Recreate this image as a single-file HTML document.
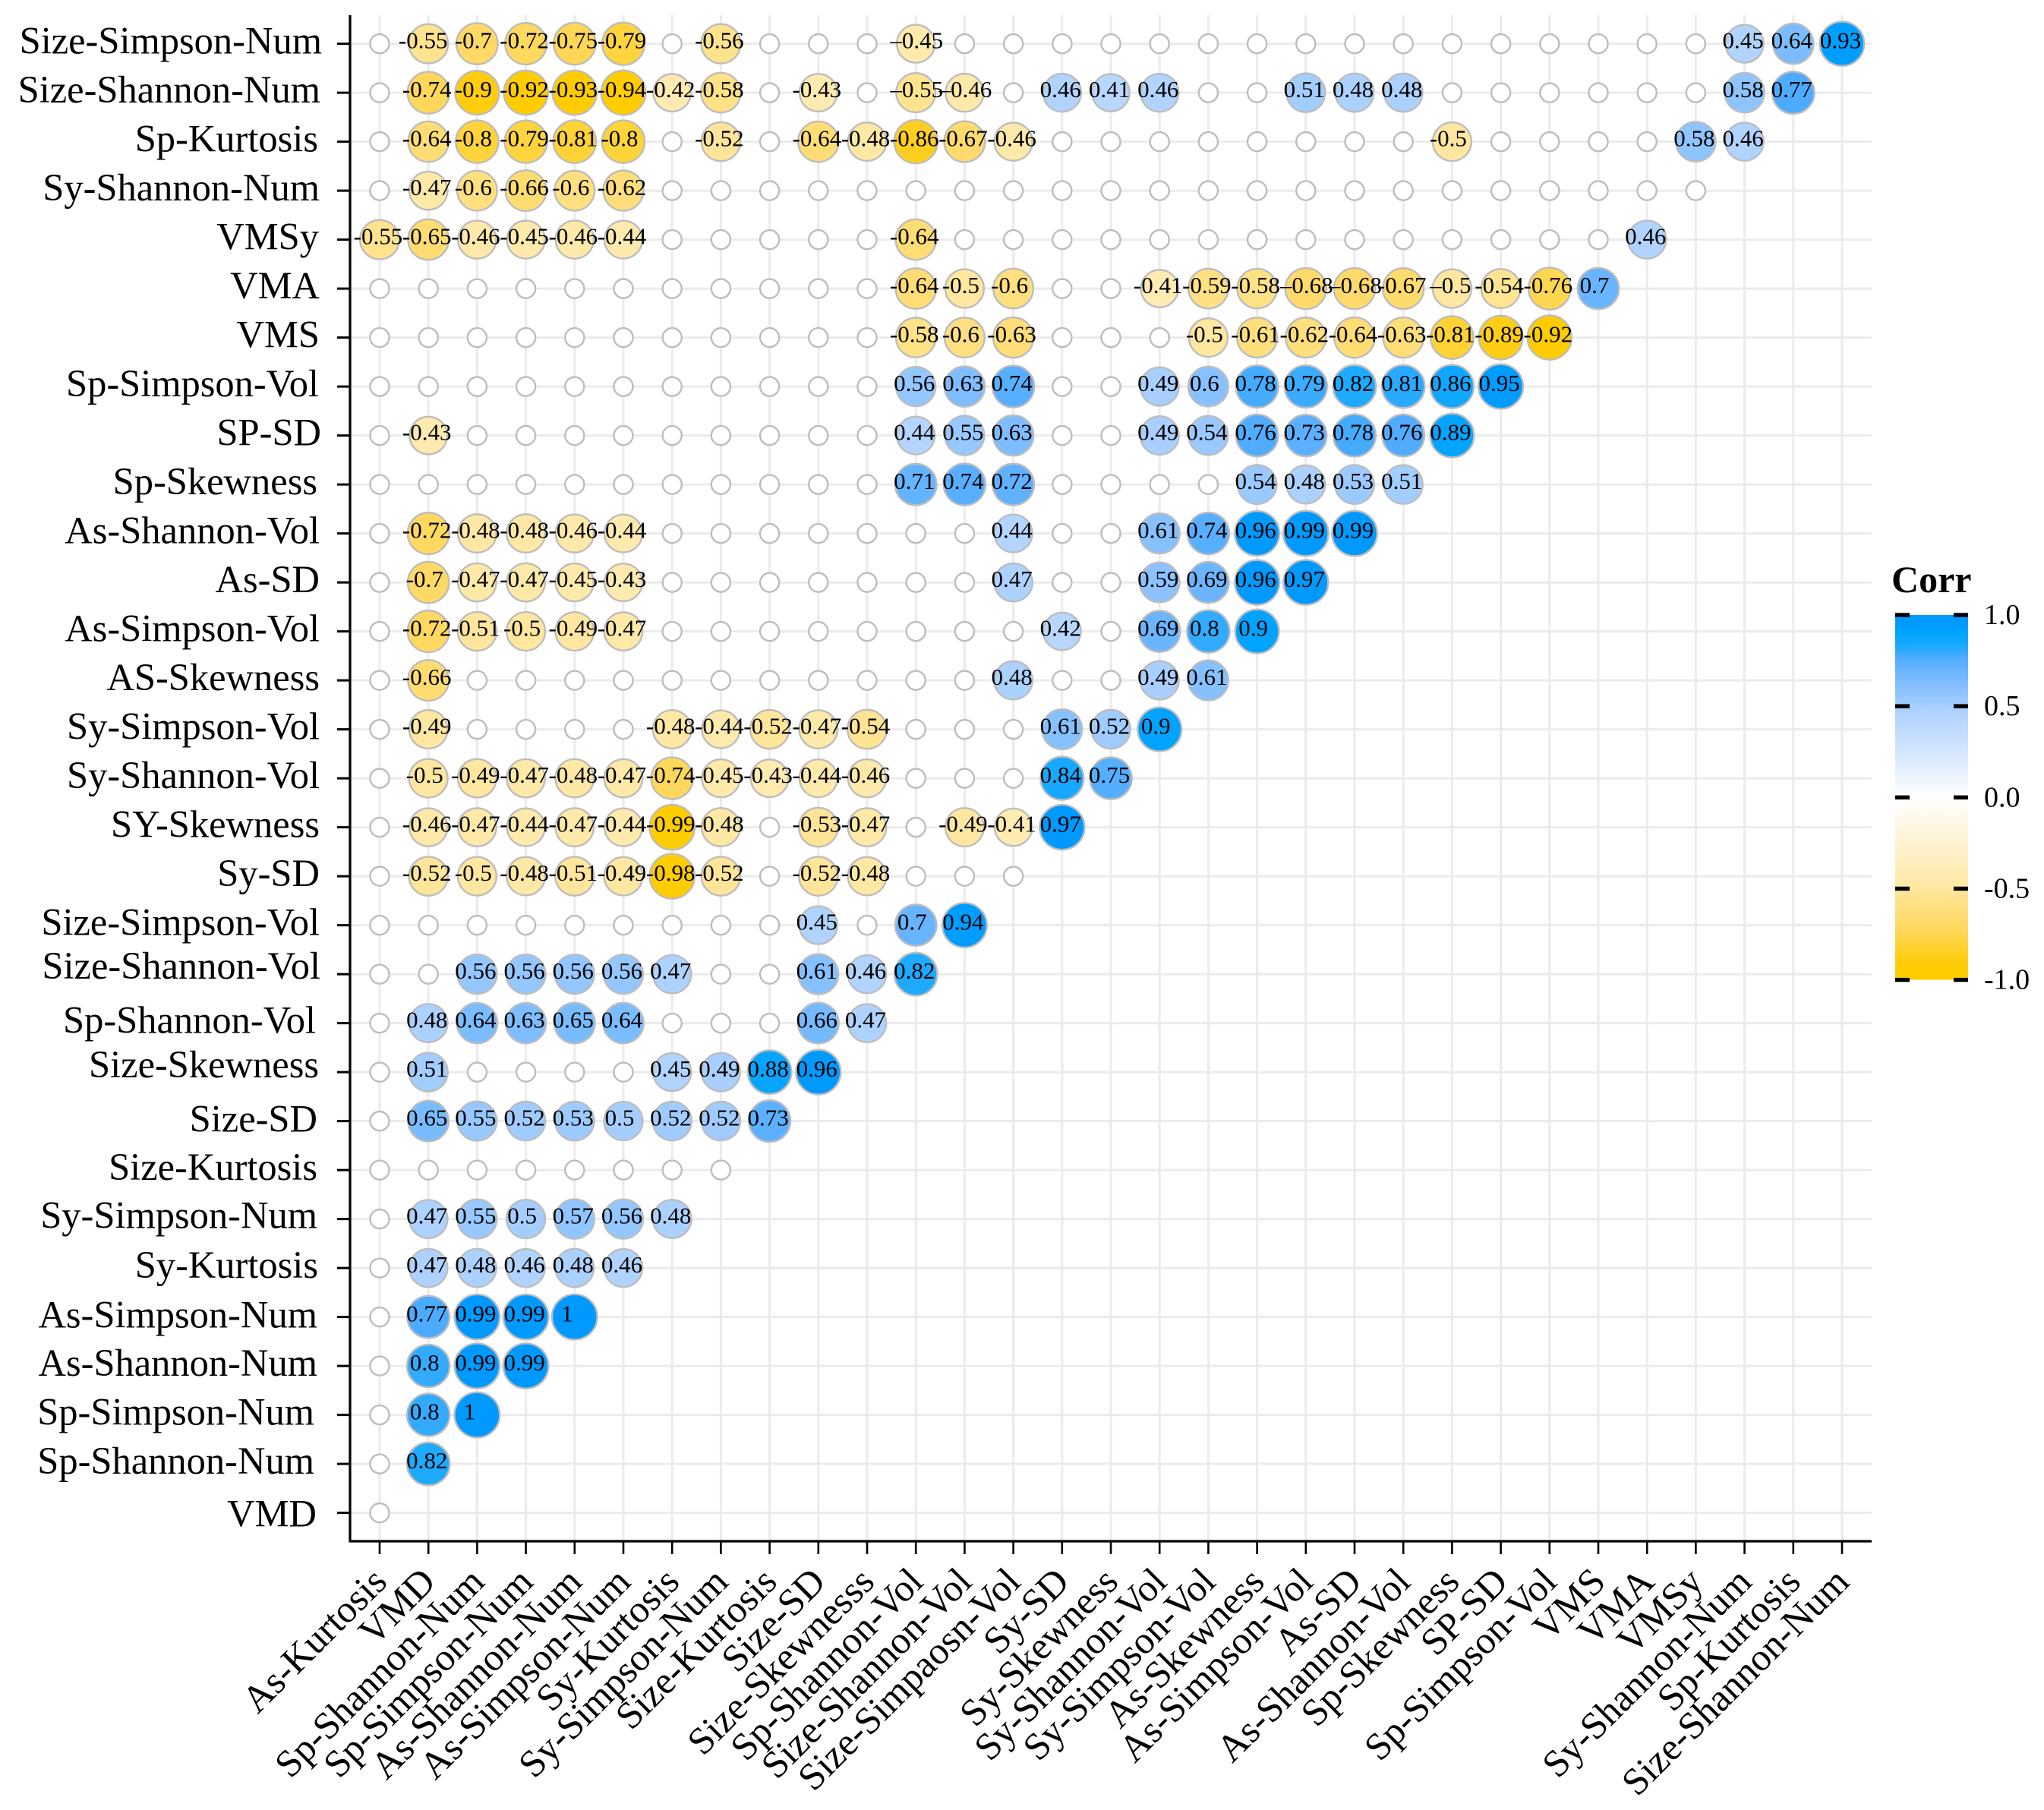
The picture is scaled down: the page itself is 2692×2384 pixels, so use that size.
<!DOCTYPE html>
<html lang="en">
<head>
<meta charset="utf-8">
<title>Correlation bubble matrix</title>
<style>
html,body{margin:0;padding:0;background:#fff;}
svg{display:block;}
text{font-family:"Liberation Serif","Times New Roman",serif;fill:#000;}
</style>
</head>
<body>
<svg id="chart" xmlns="http://www.w3.org/2000/svg" width="2692" height="2384" viewBox="0 0 2692 2384"></svg>
<script>
const _ = null;
const rowLabels = ["Size-Simpson-Num","Size-Shannon-Num","Sp-Kurtosis","Sy-Shannon-Num","VMSy","VMA","VMS","Sp-Simpson-Vol","SP-SD","Sp-Skewness","As-Shannon-Vol","As-SD","As-Simpson-Vol","AS-Skewness","Sy-Simpson-Vol","Sy-Shannon-Vol","SY-Skewness","Sy-SD","Size-Simpson-Vol","Size-Shannon-Vol","Sp-Shannon-Vol","Size-Skewness","Size-SD","Size-Kurtosis","Sy-Simpson-Num","Sy-Kurtosis","As-Simpson-Num","As-Shannon-Num","Sp-Simpson-Num","Sp-Shannon-Num","VMD"];
const colLabels = ["As-Kurtosis","VMD","Sp-Shannon-Num","Sp-Simpson-Num","As-Shannon-Num","As-Simpson-Num","Sy-Kurtosis","Sy-Simpson-Num","Size-Kurtosis","Size-SD","Size-Skewnesss","Sp-Shannon-Vol","Size-Shannon-Vol","Size-Simpaosn-Vol","Sy-SD","Sy-Skewness","Sy-Shannon-Vol","Sy-Simpson-Vol","As-Skewness","As-Simpson-Vol","As-SD","As-Shannon-Vol","Sp-Skewness","SP-SD","Sp-Simpson-Vol","VMS","VMA","VMSy","Sy-Shannon-Num","Sp-Kurtosis","Size-Shannon-Num"];
const legendTicks = [1.0,0.5,0.0,-0.5,-1.0];
const legendTickLabels = ["1.0","0.5","0.0","-0.5","-1.0"];

const rowSizeSimpsonNum = [_,-0.55,-0.7,-0.72,-0.75,-0.79,_,-0.56,_,_,_,-0.45,_,_,_,_,_,_,_,_,_,_,_,_,_,_,_,_,0.45,0.64,0.93];
const rowSizeShannonNum = [_,-0.74,-0.9,-0.92,-0.93,-0.94,-0.42,-0.58,_,-0.43,_,-0.55,-0.46,_,0.46,0.41,0.46,_,_,0.51,0.48,0.48,_,_,_,_,_,_,0.58,0.77];
const rowSpKurtosis = [_,-0.64,-0.8,-0.79,-0.81,-0.8,_,-0.52,_,-0.64,-0.48,-0.86,-0.67,-0.46,_,_,_,_,_,_,_,_,-0.5,_,_,_,_,0.58,0.46];
const rowSyShannonNum = [_,-0.47,-0.6,-0.66,-0.6,-0.62,_,_,_,_,_,_,_,_,_,_,_,_,_,_,_,_,_,_,_,_,_,_];
const rowVMSy = [-0.55,-0.65,-0.46,-0.45,-0.46,-0.44,_,_,_,_,_,-0.64,_,_,_,_,_,_,_,_,_,_,_,_,_,_,0.46];
const rowVMA = [_,_,_,_,_,_,_,_,_,_,_,-0.64,-0.5,-0.6,_,_,-0.41,-0.59,-0.58,-0.68,-0.68,-0.67,-0.5,-0.54,-0.76,0.7];
const rowVMS = [_,_,_,_,_,_,_,_,_,_,_,-0.58,-0.6,-0.63,_,_,_,-0.5,-0.61,-0.62,-0.64,-0.63,-0.81,-0.89,-0.92];
const rowSpSimpsonVol = [_,_,_,_,_,_,_,_,_,_,_,0.56,0.63,0.74,_,_,0.49,0.6,0.78,0.79,0.82,0.81,0.86,0.95];
const rowSPSD = [_,-0.43,_,_,_,_,_,_,_,_,_,0.44,0.55,0.63,_,_,0.49,0.54,0.76,0.73,0.78,0.76,0.89];
const rowSpSkewness = [_,_,_,_,_,_,_,_,_,_,_,0.71,0.74,0.72,_,_,_,_,0.54,0.48,0.53,0.51];
const rowAsShannonVol = [_,-0.72,-0.48,-0.48,-0.46,-0.44,_,_,_,_,_,_,_,0.44,_,_,0.61,0.74,0.96,0.99,0.99];
const rowAsSD = [_,-0.7,-0.47,-0.47,-0.45,-0.43,_,_,_,_,_,_,_,0.47,_,_,0.59,0.69,0.96,0.97];
const rowAsSimpsonVol = [_,-0.72,-0.51,-0.5,-0.49,-0.47,_,_,_,_,_,_,_,_,0.42,_,0.69,0.8,0.9];
const rowASSkewness = [_,-0.66,_,_,_,_,_,_,_,_,_,_,_,0.48,_,_,0.49,0.61];
const rowSySimpsonVol = [_,-0.49,_,_,_,_,-0.48,-0.44,-0.52,-0.47,-0.54,_,_,_,0.61,0.52,0.9];
const rowSyShannonVol = [_,-0.5,-0.49,-0.47,-0.48,-0.47,-0.74,-0.45,-0.43,-0.44,-0.46,_,_,_,0.84,0.75];
const rowSYSkewness = [_,-0.46,-0.47,-0.44,-0.47,-0.44,-0.99,-0.48,_,-0.53,-0.47,_,-0.49,-0.41,0.97];
const rowSySD = [_,-0.52,-0.5,-0.48,-0.51,-0.49,-0.98,-0.52,_,-0.52,-0.48,_,_,_];
const rowSizeSimpsonVol = [_,_,_,_,_,_,_,_,_,0.45,_,0.7,0.94];
const rowSizeShannonVol = [_,_,0.56,0.56,0.56,0.56,0.47,_,_,0.61,0.46,0.82];
const rowSpShannonVol = [_,0.48,0.64,0.63,0.65,0.64,_,_,_,0.66,0.47];
const rowSizeSkewness = [_,0.51,_,_,_,_,0.45,0.49,0.88,0.96];
const rowSizeSD = [_,0.65,0.55,0.52,0.53,0.5,0.52,0.52,0.73];
const rowSizeKurtosis = [_,_,_,_,_,_,_,_];
const rowSySimpsonNum = [_,0.47,0.55,0.5,0.57,0.56,0.48];
const rowSyKurtosis = [_,0.47,0.48,0.46,0.48,0.46];
const rowAsSimpsonNum = [_,0.77,0.99,0.99,1];
const rowAsShannonNum = [_,0.8,0.99,0.99];
const rowSpSimpsonNum = [_,0.8,1];
const rowSpShannonNum = [_,0.82];
const rowVMD = [_];
const seriesValues = [rowSizeSimpsonNum,rowSizeShannonNum,rowSpKurtosis,rowSyShannonNum,rowVMSy,rowVMA,rowVMS,rowSpSimpsonVol,rowSPSD,rowSpSkewness,rowAsShannonVol,rowAsSD,rowAsSimpsonVol,rowASSkewness,rowSySimpsonVol,rowSyShannonVol,rowSYSkewness,rowSySD,rowSizeSimpsonVol,rowSizeShannonVol,rowSpShannonVol,rowSizeSkewness,rowSizeSD,rowSizeKurtosis,rowSySimpsonNum,rowSyKurtosis,rowAsSimpsonNum,rowAsShannonNum,rowSpSimpsonNum,rowSpShannonNum,rowVMD];

/* Layout and styling */
const svgNS = "http://www.w3.org/2000/svg";
const svg = document.getElementById("chart");
const plot = {left:461,right:2465,top:20,bottom:2030};
function xAxis(c){return 500+64.2*c;}
function yAxis(r){return 57.6+64.5*r;}
function bubbleDiameter(v){return 44.5+17.5*Math.abs(v);}
function legendY(v){return 1050.3-240.3*v;}
const posRamp = [[0,255,255,255],[0.25,212,230,255],[0.47,174,210,255],[0.6,136,193,255],[0.7,104,180,255],[0.77,77,171,255],[0.82,30,170,255],[0.9,0,163,255],[0.97,0,153,255],[1,0,153,255]];
const negRamp = [[0,255,255,255],[0.25,255,243,210],[0.47,255,233,168],[0.6,255,223,128],[0.74,255,215,90],[0.8,255,211,58],[0.9,255,204,15],[0.92,255,204,0],[1,255,204,0]];
function colorFor(v){
  const ramp = v>=0?posRamp:negRamp;
  const a = Math.min(Math.abs(v),1);
  for(let i=1;i<ramp.length;i++){
    if(a<=ramp[i][0]){
      const p=ramp[i-1],q=ramp[i],t=(a-p[0])/(q[0]-p[0]||1);
      return "rgb("+[1,2,3].map(k=>Math.round(p[k]+(q[k]-p[k])*t)).join(",")+")";
    }
  }
  return "rgb(0,153,255)";
}
const yLabelNudge = {"Size-Simpson-Num":[3,0],"Size-Shannon-Num":[1,0],"Sp-Kurtosis":[-2,0],"VMSy":[-1,0],"Sp-Simpson-Vol":[-1,0],"SP-SD":[2,0],"Sp-Skewness":[-3,0],"Size-Shannon-Vol":[1,-7],"Sp-Shannon-Vol":[-5,0],"Size-Skewness":[-1,-6],"Size-SD":[-3,1],"Size-Kurtosis":[-3,0],"Sy-Simpson-Num":[-3,-1],"Sy-Kurtosis":[-2,0],"As-Simpson-Num":[-3,1],"As-Shannon-Num":[-3,0],"Sp-Simpson-Num":[-7,0],"Sp-Shannon-Num":[-7,0],"VMD":[-4,5]};
const longDashCells = new Set(["0:11","1:11","1:12","5:19","5:20","5:22"]);

function make(tag,attrs,parent,content){
  const el=document.createElementNS(svgNS,tag);
  for(const k in attrs){el.setAttribute(k,attrs[k]);}
  if(content!==undefined){el.textContent=content;}
  parent.appendChild(el);
  return el;
}
function slug(s){return s.toLowerCase().replace(/[^a-z0-9]+/g,"-");}

/* gridlines */
const gridGroup = make("g",{stroke:"#ebebeb","stroke-width":3},svg);


rowLabels.forEach((label,r)=>{
  const line = make("line",{x1:plot.left,x2:plot.right,y1:yAxis(r),y2:yAxis(r)},gridGroup);
  
  
});
colLabels.forEach((label,c)=>{
  const line = make("line",{x1:xAxis(c),x2:xAxis(c),y1:plot.top,y2:plot.bottom},gridGroup);
  
  
});

/* bubbles */
const bubbleGroup = make("g",{stroke:"#bdbdbd","stroke-width":2.4},svg);


seriesValues.forEach((row,r)=>{
  row.forEach((v,c)=>{
    const d = v===null?27.5:bubbleDiameter(v);
    const fill = v===null?"#ffffff":colorFor(v);
    const dot = make("circle",{cx:xAxis(c),cy:yAxis(r),r:(d-2.4)/2,fill:fill},bubbleGroup);
    
    
  });
});

/* printed values */
const valueGroup = make("g",{"font-size":31,"text-anchor":"middle"},svg);


seriesValues.forEach((row,r)=>{
  row.forEach((v,c)=>{
    if(v===null){return;}
    let printed = String(v);
    const digits = printed.replace("-","").length;
    let shift = digits===1?-10:(digits===3?-5:-2);
    if(r===0&&c===1){shift=-7;}
    if(longDashCells.has(r+":"+c)){printed="\u2013"+printed.slice(1);shift=digits===3?-2:1;}
    const t = make("text",{x:xAxis(c)+shift,y:yAxis(r)+6},valueGroup,printed);
    
    
  });
});

/* axes */
const axisGroup = make("g",{stroke:"#000"},svg);


const yLine = make("line",{x1:plot.left,x2:plot.left,y1:plot.top,y2:plot.bottom+1.5,"stroke-width":3.2},axisGroup);


const xLine = make("line",{x1:plot.left,x2:plot.right,y1:plot.bottom,y2:plot.bottom,"stroke-width":3.2},axisGroup);



rowLabels.forEach((label,r)=>{
  const tick = make("line",{x1:444,x2:plot.left,y1:yAxis(r),y2:yAxis(r),"stroke-width":3},axisGroup);
  
  
  const n = yLabelNudge[label]||[0,0];
  const t = make("text",{x:421+n[0],y:yAxis(r)+13+n[1],"font-size":50.5,"text-anchor":"end",stroke:"none"},svg,label);
  
  
});
colLabels.forEach((label,c)=>{
  const tick = make("line",{x1:xAxis(c),x2:xAxis(c),y1:plot.bottom,y2:2047,"stroke-width":2.6},axisGroup);
  
  
  const ax = xAxis(c)+12, ay = 2086;
  const t = make("text",{x:ax,y:ay,"font-size":50.5,"text-anchor":"end",transform:"rotate(-45 "+ax+" "+ay+")"},svg,label);
  
  
});

/* colour legend */
const defs = make("defs",{},svg);
const grad = make("linearGradient",{id:"corrGradient",x1:0,y1:0,x2:0,y2:1},defs);
for(let i=0;i<=100;i++){
  make("stop",{offset:(i/100),"stop-color":colorFor(1-i/50)},grad);
}
const legend = make("g",{},svg);


const legendTitle = make("text",{x:2491,y:780,"font-size":50,"font-weight":"bold"},legend,"Corr");


const bar = make("rect",{x:2496,y:legendY(1),width:96,height:legendY(-1)-legendY(1),fill:"url(#corrGradient)"},legend);


legendTicks.forEach((v,i)=>{
  const tl = make("rect",{x:2496,y:legendY(v)-2.7,width:19,height:5.4,fill:"#000"},legend);
  
  
  const tr = make("rect",{x:2573,y:legendY(v)-2.7,width:19,height:5.4,fill:"#000"},legend);
  
  
  const t = make("text",{x:2613,y:legendY(v)+12,"font-size":38},legend,legendTickLabels[i]);
  
  
});
</script>
</body>
</html>
